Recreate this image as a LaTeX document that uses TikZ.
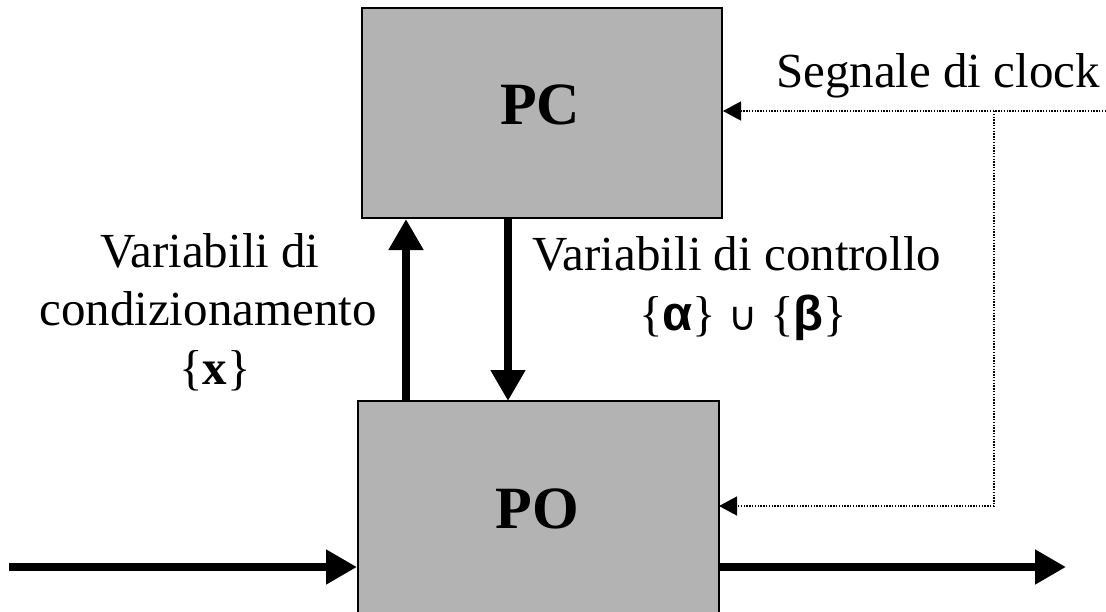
\documentclass[tikz,border=0pt]{standalone}
\usepackage{fontspec}
\setmainfont{Liberation Serif}
\newfontfamily\greekfont{Liberation Sans}
\newfontfamily\symbfont{DejaVu Sans}
\usetikzlibrary{arrows.meta}
\definecolor{boxgray}{RGB}{179,179,179}
\tikzset{
  block/.style={draw=black, line width=2pt, fill=boxgray},
  bigtext/.style={font=\fontsize{60}{70}\selectfont\bfseries, anchor=base},
  lbl/.style={font=\fontsize{49}{58}\selectfont, anchor=base},
  thickarrow/.style={line width=8pt, -{Triangle[length=31pt,width=33pt]}},
  clockarrow/.style={line width=1.4pt, dash pattern=on 1.4pt off 1.4pt, -{Triangle[length=18pt,width=19pt]}}
}
\begin{document}
\begin{tikzpicture}[x=1pt,y=-1pt]
\useasboundingbox (0,0) rectangle (1106,611);
% blocks
\draw[block] (362,8) rectangle (722,218);
\draw[block] (358,401) rectangle (719,625);
\node[bigtext] (pc) at (540,124) {PC};
\node[bigtext] (po) at (537,528) {PO};
% connectors between blocks
\coordinate (upS) at (406,401);
\coordinate (upE) at (406,219);
\coordinate (dnS) at (508,219);
\coordinate (dnE) at (508,401);
\draw[thickarrow] (upS) -- (upE);
\draw[thickarrow] (dnS) -- (dnE);
% input/output
\coordinate (inS) at (9,567);
\coordinate (inE) at (357,567);
\coordinate (outS) at (719,567);
\coordinate (outE) at (1066,567);
\draw[thickarrow] (inS) -- (inE);
\draw[thickarrow] (outS) -- (outE);
% clock
\coordinate (clkR) at (1106,111);
\coordinate (clkJ) at (994,111);
\coordinate (clkPC) at (723,111);
\coordinate (clkB) at (994,506);
\coordinate (clkPO) at (719,506);
\draw[clockarrow] (clkR) -- (clkPC);
\draw[clockarrow] (clkJ) -- (clkB) -- (clkPO);
% labels
\node[lbl] (clk) at (938,87) {Segnale di clock};
\node[lbl] (c1) at (737,270) {Variabili di controllo};
\node[lbl] (c2) at (743,330) {\{{\greekfont\bfseries α}\} {\symbfont\fontsize{40}{48}\selectfont ∪} \{{\greekfont\bfseries β}\}};
\node[lbl] (v1) at (210,267) {Variabili di};
\node[lbl] (v2) at (208,325) {condizionamento};
\node[lbl] (v3) at (215,384) {\{\textbf{x}\}};
\end{tikzpicture}
\end{document}
